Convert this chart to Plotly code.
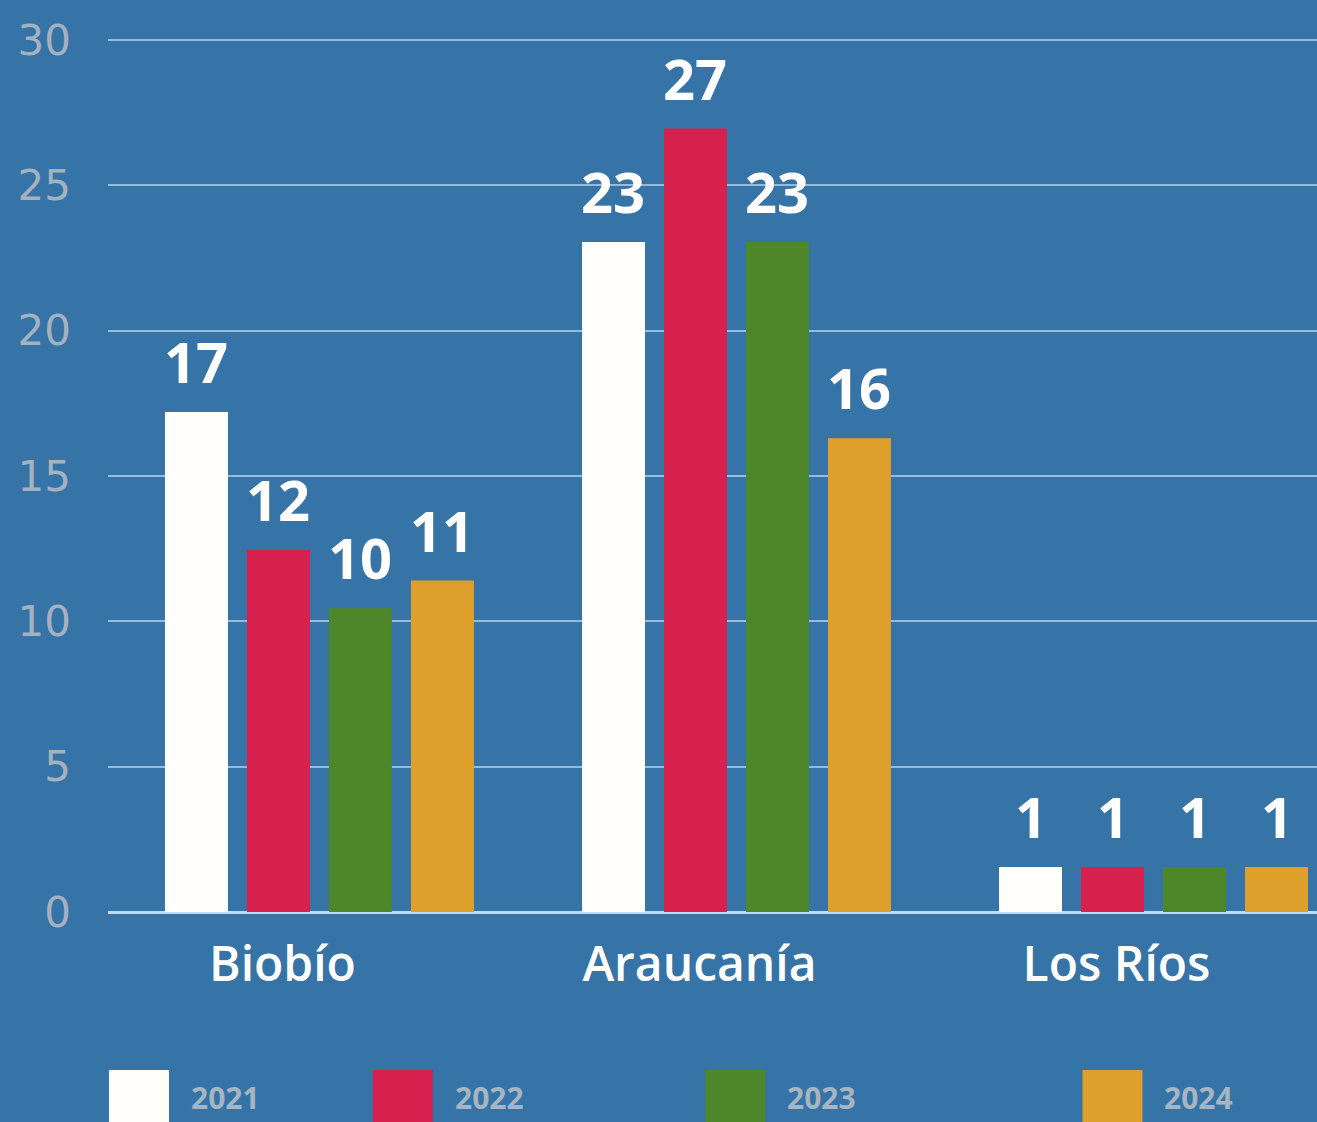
import plotly.graph_objects as go

# ---- data ----
categories = ["Biobío", "Araucanía", "Los Ríos"]
years = ["2021", "2022", "2023", "2024"]
values_2021 = [17.2, 23.05, 1.55]
values_2022 = [12.45, 26.95, 1.55]
values_2023 = [10.45, 23.05, 1.55]
values_2024 = [11.4, 16.3, 1.55]
labels_2021 = ["17", "23", "1"]
labels_2022 = ["12", "27", "1"]
labels_2023 = ["10", "23", "1"]
labels_2024 = ["11", "16", "1"]
y_ticks = [0, 5, 10, 15, 20, 25, 30]

series = [values_2021, values_2022, values_2023, values_2024]
series_labels = [labels_2021, labels_2022, labels_2023, labels_2024]
colors = ["#fffefb", "#d6214f", "#4e872a", "#dfa02b"]

BG = "#3673a6"
W, H = 1317, 1122
ML, MR, MT, MB = 108, 0, 37, 210

slot = 0.1966
bar_w = 0.151

fig = go.Figure()
annotations = []
idx = list(range(len(categories)))
for j, (vals, labs, col, yr) in enumerate(zip(series, series_labels, colors, years)):
    off = (j - 1.5) * slot
    xs = [i + off for i in idx]
    fig.add_trace(go.Bar(
        x=xs, y=vals, width=bar_w, marker=dict(color=col, line=dict(width=0)),
        name=yr, showlegend=False,
    ))
    for x, v, t in zip(xs, vals, labs):
        annotations.append(dict(
            x=x, y=v, xref="x", yref="y", text=t, showarrow=False,
            yanchor="bottom", yshift=11,
            font=dict(family="Open Sans", size=56, color="white", weight="bold"),
        ))

# legend (manual swatches)
plot_h = H - MT - MB
legend_x = [0.0008, 0.219, 0.494, 0.806]
for j, (yr, col) in enumerate(zip(years, colors)):
    x0 = legend_x[j]
    fig.add_shape(type="rect", xref="paper", yref="paper",
                  x0=x0, x1=x0 + 60 / (W - ML - MR),
                  y0=-(H - MT - plot_h + 20) / plot_h, y1=-(1070 - MT - plot_h) / plot_h,
                  fillcolor=col, line=dict(width=0), layer="above")
    annotations.append(dict(
        x=x0 + 80 / (W - ML - MR), y=-(1097 - MT - plot_h) / plot_h, xref="paper", yref="paper",
        text=yr, showarrow=False, xanchor="left", yanchor="middle",
        font=dict(family="Open Sans", size=30, color="#a7b4c2", weight="bold"),
    ))

fig.update_layout(
    width=W, height=H,
    margin=dict(l=ML, r=MR, t=MT, b=MB),
    paper_bgcolor=BG, plot_bgcolor=BG,
    barmode="overlay",
    showlegend=False,
    annotations=annotations,
    xaxis=dict(
        range=[-0.507, 2.392], tickvals=idx, ticktext=categories,
        showgrid=False, zeroline=False, showline=False, ticks="",
        tickfont=dict(family="Open Sans", size=48, color="white", weight=600),
        ticklabelshift=-37, ticklabelstandoff=20,
    ),
    yaxis=dict(
        range=[0, 30.1], tickvals=y_ticks,
        showgrid=True, gridcolor="#96bbdd", gridwidth=2,
        zeroline=True, zerolinecolor="#c9d8e6", zerolinewidth=3,
        showline=False, ticks="",
        tickfont=dict(family="DejaVu Sans", size=42, color="#a4b2bf"),
        ticklabelstandoff=36,
    ),
)

fig.write_html(
    "out.html",
    config={"displayModeBar": False},
    post_script="document.body.style.margin='0';document.body.style.padding='0';"
                "document.documentElement.style.overflow='hidden';",
)
